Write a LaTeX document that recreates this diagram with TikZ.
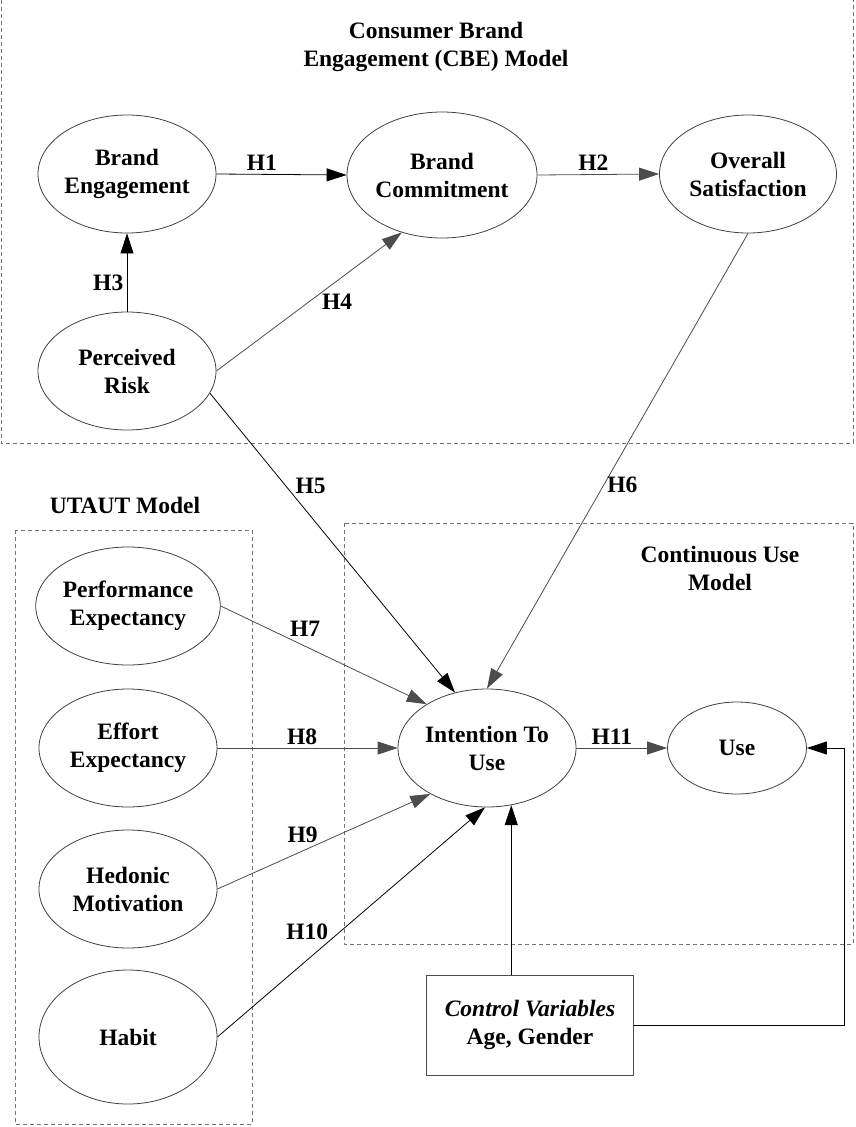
\documentclass[tikz,border=0pt]{standalone}
\usepackage{fontspec}
\setmainfont{Liberation Serif}
\usetikzlibrary{shapes,arrows.meta}
\tikzstyle{construct} = [ellipse, draw=black!75, line width=0.8pt, minimum width=178pt, minimum height=118pt, inner sep=0pt, align=center]
\tikzstyle{ctrlblock} = [rectangle, draw=black!70, line width=0.8pt, minimum width=207pt, minimum height=100pt, align=center]
\tikzstyle{modelbox} = [draw=black!55, line width=0.8pt, dash pattern=on 4pt off 3pt]
\tikzstyle{arrow} = [line width=0.8pt, -{Triangle[length=20pt,width=13pt]}]
\tikzstyle{grayarrow} = [arrow, draw=black!70]

\begin{document}
\begin{tikzpicture}[x=1pt, y=-1pt, font=\fontsize{23.5}{28}\selectfont\bfseries]
        \useasboundingbox (0,0) rectangle (855,1127);

        % model frames
        \draw [modelbox] (1,0) -- (1,443) -- (853,443) -- (853,0);
        \draw [modelbox] (15,530) rectangle (252,1124);
        \draw [modelbox] (344,523) rectangle (853,944);
        \node (cbetitle) [align=center] at (436,47) {Consumer Brand\\Engagement (CBE) Model};
        \node (utauttitle) at (125,505) {UTAUT Model};
        \node (cutitle) [align=center] at (720,568) {Continuous Use\\Model};

        % constructs
        \node (engage) [construct] at (127,174) {Brand\\Engagement};
        \node (commit) [construct, minimum width=190pt, minimum height=126pt] at (442,175) {Brand\\Commitment};
        \node (satisf) [construct, minimum width=177pt] at (748,174) {Overall\\Satisfaction};
        \node (risk) [construct] at (127,371) {Perceived\\Risk};
        \node (perfexp) [construct] at (128,606) {Performance\\Expectancy};
        \node (effexp) [construct] at (128,748) {Effort\\Expectancy};
        \node (hedmot) [construct] at (128,889) {Hedonic\\Motivation};
        \node (habit) [construct, minimum height=134pt] at (128,1037) {Habit};
        \node (intent) [construct] at (487,748) {Intention To\\Use};
        \node (use) [construct, minimum width=139pt, minimum height=92pt] at (737,748) {Use};
        \node (control) [ctrlblock] at (530,1025) {\itshape Control Variables\\Age, Gender};
        \coordinate (ctrlbend) at (844,748);

        % hypotheses
        \draw [arrow] (engage.east) -- node[pos=0.35, anchor=south] {H1} (commit.west);
        \draw [grayarrow] (commit.east) -- node[pos=0.46, anchor=south] {H2} (satisf.west);
        \draw [arrow] (risk.north) -- node[pos=0.37, anchor=east] {H3} (engage.south);
        \draw [grayarrow] (risk.east) -- node[pos=0.55, anchor=north west, yshift=5pt] {H4} (commit.235);
        \draw [arrow] (risk.-15) -- node[pos=0.31, anchor=west, xshift=6pt] {H5} (intent.120);
        \draw [grayarrow] (satisf.south) -- node[pos=0.553, anchor=west] {H6} (intent.north);
        \draw [grayarrow] (perfexp.east) -- node[pos=0.41, anchor=south, yshift=6pt] {H7} (intent.144);
        \draw [grayarrow] (effexp.east) -- node[pos=0.47, anchor=south] {H8} (intent.west);
        \draw [grayarrow] (hedmot.east) -- node[pos=0.4, anchor=south, yshift=5pt] {H9} (intent.219);
        \draw [arrow] (habit.east) -- node[pos=0.336, anchor=south, yshift=16pt] {H10} (intent.-92);
        \draw [grayarrow] (intent.east) -- node[pos=0.39, anchor=south] {H11} (use.west);

        % control variables
        \draw [arrow] (control.north -| intent.-67) -- (intent.-67);
        \draw [arrow] (control.east) -| (ctrlbend) -- (use.east);
    \end{tikzpicture}
\end{document}
